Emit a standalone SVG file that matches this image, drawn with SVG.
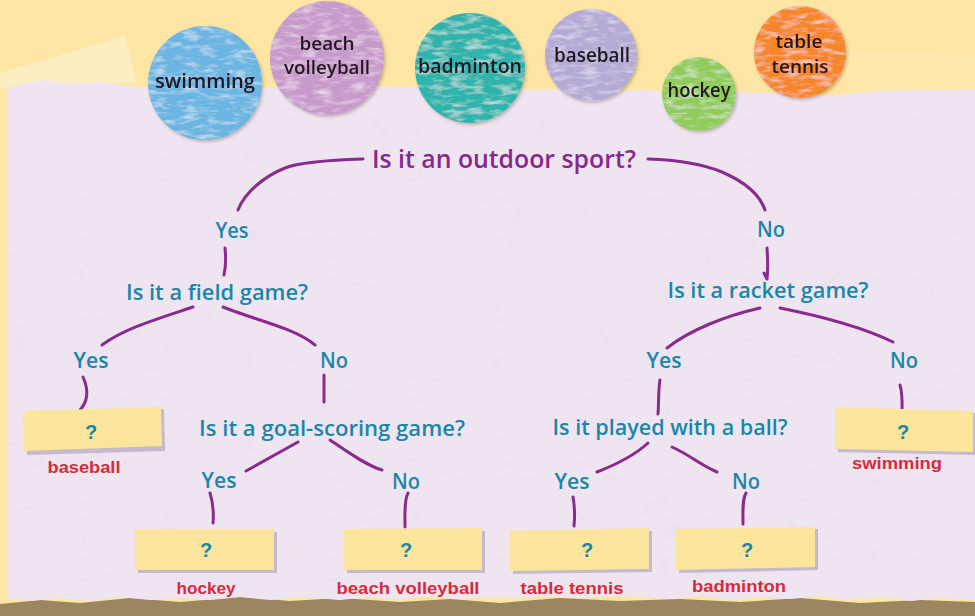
<svg xmlns="http://www.w3.org/2000/svg" width="975" height="616" viewBox="0 0 975 616">
<defs>
<style>
.q{font-family:"Open Sans","DejaVu Sans",sans-serif;fill:#1a87a8;font-size:22px;font-weight:600;text-anchor:middle}
.yn{font-family:"Open Sans","DejaVu Sans",sans-serif;fill:#1a87a8;font-size:22px;font-weight:600;text-anchor:middle}
.title{font-family:"Open Sans","DejaVu Sans",sans-serif;fill:#86288c;font-size:26px;font-weight:600;text-anchor:middle}
.ball{font-family:"Open Sans","DejaVu Sans",sans-serif;fill:#241820;font-size:20px;font-weight:600;text-anchor:middle}
.ball2{font-family:"Open Sans","DejaVu Sans",sans-serif;fill:#241820;font-size:18px;font-weight:600;text-anchor:middle}
.ans{font-family:"Liberation Sans","DejaVu Sans",sans-serif;fill:#d62b3c;font-size:17px;font-weight:bold;text-anchor:middle}
.qm{font-family:"Liberation Sans","DejaVu Sans",sans-serif;fill:#1a87a8;font-size:20px;font-weight:bold;text-anchor:middle}
.conn path{fill:none;stroke:#8a2a8e;stroke-width:3;stroke-linecap:round;stroke-linejoin:round}
.tape{fill:#fbe49b}
.tapesh{fill:#b9aec6;opacity:0.8}
</style>
<filter id="chalk" x="-5%" y="-5%" width="110%" height="110%">
<feTurbulence type="fractalNoise" baseFrequency="0.06 0.2" numOctaves="3" seed="4" result="n"/>
<feColorMatrix in="n" type="matrix" values="0 0 0 0 1  0 0 0 0 1  0 0 0 0 1  1.2 0 0 0 -0.56" result="w"/>
<feComposite in="w" in2="SourceGraphic" operator="in" result="wm"/>
<feMerge><feMergeNode in="SourceGraphic"/><feMergeNode in="wm"/></feMerge>
</filter>
<filter id="shadow" x="-10%" y="-10%" width="125%" height="125%">
<feDropShadow dx="1.5" dy="2" stdDeviation="1.5" flood-color="#6b5a4a" flood-opacity="0.35"/>
</filter>
<filter id="paper" x="0" y="0" width="100%" height="100%">
<feTurbulence type="turbulence" baseFrequency="0.012 0.025" numOctaves="3" seed="7" result="n"/>
<feColorMatrix in="n" type="matrix" values="0 0 0 0 0.78  0 0 0 0 0.68  0 0 0 0 0.86  -5 0 0 0 0.5" result="w"/>
<feComposite in="w" in2="SourceGraphic" operator="in" result="wm"/>
<feMerge><feMergeNode in="SourceGraphic"/><feMergeNode in="wm"/></feMerge>
</filter>
</defs>

<g id="background">
<rect x="0" y="0" width="975" height="616" fill="#fde5a3"/>
<polygon points="0,73 125,36 137,82 0,88" fill="#fdeec2"/>
<polygon points="847,50 975,56 975,100 847,100" fill="#fdeab4" opacity="0.6"/>
<polygon points="0,604 40,600 80,603 130,598 180,602 240,597 290,601 340,598 400,602 450,599 500,603 560,598 620,601 680,599 740,602 800,598 860,603 920,600 975,602 975,616 0,616" fill="#9a8760"/>
<path d="M8,88 L20,84 L45,80 L70,84 L100,82 L130,86 L150,88 L180,86 L210,87 L240,85 L270,88 L300,86 L340,89 L370,86 L400,87 L430,86 L470,88 L500,87 L530,90 L560,89 L600,91 L640,90 L680,92 L720,91 L760,93 L790,92 L820,96 L850,94 L880,91 L910,90 L940,90 L975,89 L975,600 L940,598 L910,601 L880,597 L850,600 L820,596 L790,599 L760,597 L730,600 L700,596 L670,599 L640,597 L610,596 L580,598 L550,596 L520,598 L490,597 L460,599 L430,596 L400,599 L370,597 L340,600 L300,597 L270,600 L240,597 L210,600 L180,598 L150,600 L120,597 L90,601 L60,598 L30,601 L8,599 Z" fill="#efe5f1" filter="url(#paper)"/>
</g>

<g id="circles" filter="url(#shadow)">
<g id="c-swimming"><circle cx="205" cy="83" r="57" fill="#6ab5e2" filter="url(#chalk)"/><text class="ball" x="205" y="88" textLength="100" lengthAdjust="spacingAndGlyphs">swimming</text></g>
<g id="c-beachvolleyball"><circle cx="327" cy="58" r="57" fill="#c79acb" filter="url(#chalk)"/><text class="ball2" x="327" y="50" textLength="55" lengthAdjust="spacingAndGlyphs">beach</text><text class="ball2" x="327" y="74" textLength="86" lengthAdjust="spacingAndGlyphs">volleyball</text></g>
<g id="c-badminton"><circle cx="470" cy="68" r="55" fill="#2db4ac" filter="url(#chalk)"/><text class="ball" x="470" y="73" textLength="104" lengthAdjust="spacingAndGlyphs">badminton</text></g>
<g id="c-baseball"><circle cx="591" cy="55" r="46" fill="#b4aad5" filter="url(#chalk)"/><text class="ball" x="592" y="62" textLength="76" lengthAdjust="spacingAndGlyphs">baseball</text></g>
<g id="c-hockey"><circle cx="699" cy="94" r="37" fill="#90cb5c" filter="url(#chalk)"/><text class="ball" x="699" y="97" textLength="63" lengthAdjust="spacingAndGlyphs">hockey</text></g>
<g id="c-tabletennis"><circle cx="800" cy="52" r="46" fill="#f5862a" filter="url(#chalk)"/><text class="ball2" x="799" y="48" textLength="47" lengthAdjust="spacingAndGlyphs">table</text><text class="ball2" x="800" y="73" textLength="57" lengthAdjust="spacingAndGlyphs">tennis</text></g>
</g>

<g class="conn" id="connectors">
<path d="M363,159 C330,160 300,162 285,168 C265,176 245,192 238,210"/>
<path d="M648,159 C680,160 705,165 722,172 C745,182 760,195 765,210"/>
<path d="M225,248 C226,258 226,266 224,275"/>
<path d="M767,248 C768,262 768,270 767,279 L764,273"/>
<path d="M193,307 C160,318 125,328 102,345"/>
<path d="M223,307 C255,320 295,328 315,345"/>
<path d="M83,377 C88,388 89,400 80,410"/>
<path d="M324,375 L324,402"/>
<path d="M760,308 C725,316 690,330 667,348"/>
<path d="M780,308 C820,316 860,326 893,342"/>
<path d="M660,380 C658,392 659,402 658,414"/>
<path d="M900,385 C903,395 902,405 902,418"/>
<path d="M298,442 C280,452 262,462 246,471"/>
<path d="M330,440 C345,450 365,465 382,470"/>
<path d="M210,493 C213,503 214,512 213,523"/>
<path d="M408,493 C404,500 405,515 405,527"/>
<path d="M648,443 C635,455 615,465 597,472"/>
<path d="M672,447 C690,455 700,465 717,472"/>
<path d="M573,497 C575,508 575,516 574,526"/>
<path d="M746,493 C742,500 743,512 743,524"/>
</g>

<g id="n-outdoor"><text class="title" x="504" y="168" textLength="264" lengthAdjust="spacingAndGlyphs">Is it an outdoor sport?</text></g>
<g id="n-yes1"><text class="yn" x="232" y="238" textLength="33" lengthAdjust="spacingAndGlyphs">Yes</text></g>
<g id="n-no1"><text class="yn" x="771" y="237" textLength="28" lengthAdjust="spacingAndGlyphs">No</text></g>
<g id="n-field"><text class="q" x="217" y="300" textLength="182" lengthAdjust="spacingAndGlyphs">Is it a field game?</text></g>
<g id="n-racket"><text class="q" x="768" y="298" textLength="201" lengthAdjust="spacingAndGlyphs">Is it a racket game?</text></g>
<g id="n-yes2"><text class="yn" x="91" y="368" textLength="35" lengthAdjust="spacingAndGlyphs">Yes</text></g>
<g id="n-no2"><text class="yn" x="334" y="368" textLength="28" lengthAdjust="spacingAndGlyphs">No</text></g>
<g id="n-yes3"><text class="yn" x="664" y="368" textLength="35" lengthAdjust="spacingAndGlyphs">Yes</text></g>
<g id="n-no3"><text class="yn" x="904" y="368" textLength="28" lengthAdjust="spacingAndGlyphs">No</text></g>
<g id="n-goal"><text class="q" x="332" y="436" textLength="266" lengthAdjust="spacingAndGlyphs">Is it a goal-scoring game?</text></g>
<g id="n-ball"><text class="q" x="670" y="435" textLength="235" lengthAdjust="spacingAndGlyphs">Is it played with a ball?</text></g>
<g id="n-yes4"><text class="yn" x="219" y="488" textLength="35" lengthAdjust="spacingAndGlyphs">Yes</text></g>
<g id="n-no4"><text class="yn" x="406" y="489" textLength="28" lengthAdjust="spacingAndGlyphs">No</text></g>
<g id="n-yes5"><text class="yn" x="572" y="489" textLength="35" lengthAdjust="spacingAndGlyphs">Yes</text></g>
<g id="n-no5"><text class="yn" x="746" y="489" textLength="28" lengthAdjust="spacingAndGlyphs">No</text></g>

<g id="box-baseball">
<polygon class="tapesh" points="26,413 164,409 165,451 27,455"/>
<polygon class="tape" points="23,411 161,407 162,446 24,451"/>
<text class="qm" x="91" y="439">?</text>
<text class="ans" x="84" y="473" textLength="73" lengthAdjust="spacingAndGlyphs">baseball</text>
</g>
<g id="box-hockey">
<polygon class="tapesh" points="138,532 277,532 277,573 138,573"/>
<polygon class="tape" points="135,529 274,529 274,570 135,570"/>
<text class="qm" x="206" y="557">?</text>
<text class="ans" x="206" y="594" textLength="59" lengthAdjust="spacingAndGlyphs">hockey</text>
</g>
<g id="box-beachvolleyball">
<polygon class="tapesh" points="347,532 485,531 485,573 347,573"/>
<polygon class="tape" points="344,529 482,528 482,570 344,570"/>
<text class="qm" x="406" y="557">?</text>
<text class="ans" x="408" y="594" textLength="143" lengthAdjust="spacingAndGlyphs">beach volleyball</text>
</g>
<g id="box-tabletennis">
<polygon class="tapesh" points="513,533 652,531 652,572 513,574"/>
<polygon class="tape" points="510,531 649,528 649,569 510,571"/>
<text class="qm" x="587" y="557">?</text>
<text class="ans" x="572" y="594" textLength="103" lengthAdjust="spacingAndGlyphs">table tennis</text>
</g>
<g id="box-badminton">
<polygon class="tapesh" points="679,531 818,529 818,570 679,573"/>
<polygon class="tape" points="676,529 815,527 815,567 676,570"/>
<text class="qm" x="747" y="557">?</text>
<text class="ans" x="739" y="592" textLength="94" lengthAdjust="spacingAndGlyphs">badminton</text>
</g>
<g id="box-swimming">
<polygon class="tapesh" points="838,410 975,413 975,455 838,452"/>
<polygon class="tape" points="835,407 973,411 973,452 835,449"/>
<text class="qm" x="903" y="439">?</text>
<text class="ans" x="897" y="469" textLength="90" lengthAdjust="spacingAndGlyphs">swimming</text>
</g>
</svg>
